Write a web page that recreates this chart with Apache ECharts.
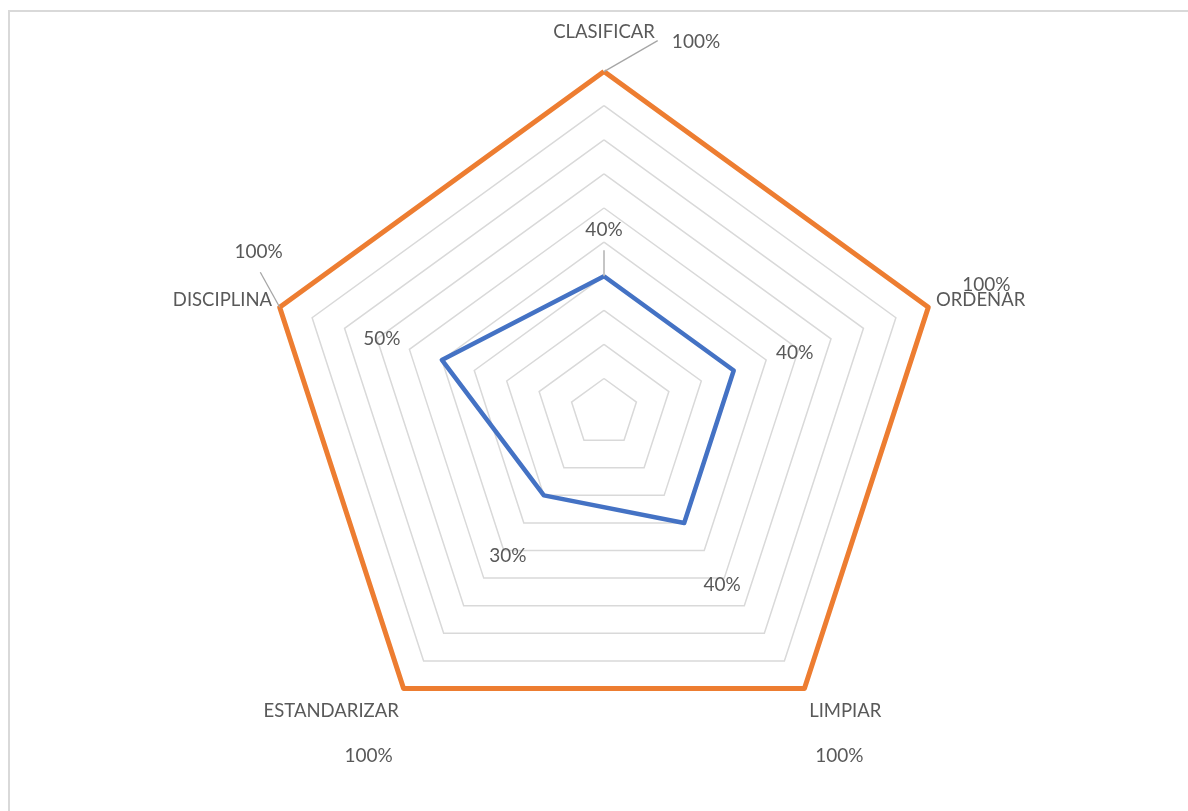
<!DOCTYPE html>
<html><head><meta charset="utf-8">
<script src="https://cdn.jsdelivr.net/npm/echarts@6/dist/echarts.min.js"></script>
<style>
html,body{margin:0;padding:0;background:#fff;overflow:hidden;}
#frame{position:absolute;left:8px;top:10px;width:1200px;height:820px;border-left:2px solid #d9d9d9;border-top:2px solid #d9d9d9;box-sizing:border-box;}
#chart{position:absolute;left:0;top:0;width:1188px;height:811px;}
</style></head><body>
<div id="frame"></div>
<div id="chart"></div>
<script>
// ---- data ----
const categories = ['CLASIFICAR', 'ORDENAR', 'LIMPIAR', 'ESTANDARIZAR', 'DISCIPLINA'];
const actual = [40, 40, 40, 30, 50];
const goal = [100, 100, 100, 100, 100];
const axisMax = 100;
const axisSplits = 10;

// ---- styling / layout ----
const TEXT = '#595959';
const FONT = 'Lato';
const BLUE = '#4472C4';
const ORANGE = '#ED7D31';
// radar places indicators counter-clockwise; reorder so they run clockwise like the original
const order = [0, 4, 3, 2, 1];
const nameStyleKey = ['top', 'side', 'bot', 'bot', 'side'];
const actualLabelOffsets = [[0, -46], [61, -18], [38, 62], [-36, 61], [-60, -21]];
const goalLabelOffsets = [[92, -30], [58, -22], [35, 67], [-35, 67], [-21, -55]];
const leaders = [
  { values: goal, idx: 0, len: 62, rotate: 30 },
  { values: goal, idx: 4, len: 40, rotate: 119 },
  { values: actual, idx: 0, len: 26, rotate: 90 }
];

function display(values) { return order.map(i => values[i]); }
function onlyAt(values, i) { return order.map(j => (j === i ? values[j] : '-')); }
function isNum(v) { return typeof v === 'number' && !isNaN(v); }

function helperSeries(values, i, label) {
  return {
    type: 'radar', silent: true, z: 5,
    symbol: 'circle', symbolSize: 1,
    itemStyle: { color: 'transparent' },
    lineStyle: { width: 0, opacity: 0 },
    emphasis: { disabled: true },
    data: [{ value: onlyAt(values, i) }],
    label: label
  };
}

const series = [
  {
    type: 'radar', name: 'Actual', z: 3, silent: true, symbol: 'none',
    lineStyle: { color: BLUE, width: 4.5 },
    data: [{ value: display(actual) }]
  },
  {
    type: 'radar', name: 'Meta', z: 3, silent: true, symbol: 'none',
    lineStyle: { color: ORANGE, width: 5 },
    data: [{ value: display(goal) }]
  }
];

categories.forEach((c, i) => {
  series.push(helperSeries(actual, i, {
    show: true, position: 'inside', offset: actualLabelOffsets[i],
    color: TEXT, fontSize: 19, fontFamily: FONT,
    formatter: p => (isNum(p.value) ? p.value + '%' : '')
  }));
  series.push(helperSeries(goal, i, {
    show: true, position: 'inside', offset: goalLabelOffsets[i],
    color: TEXT, fontSize: 19, fontFamily: FONT,
    formatter: p => (isNum(p.value) ? p.value + '%' : '')
  }));
});

leaders.forEach(l => {
  series.push(helperSeries(l.values, l.idx, {
    show: true, position: 'inside', align: 'left', verticalAlign: 'middle',
    rotate: l.rotate,
    formatter: p => (isNum(p.value) ? '{l|}' : ''),
    rich: { l: { width: l.len, height: 1.3, backgroundColor: '#a6a6a6' } }
  }));
});

const nameBase = { fontSize: 18.5, fontFamily: FONT, color: TEXT };

const chart = echarts.init(document.getElementById('chart'), null, { renderer: 'canvas' });
chart.setOption({
  animation: false,
  backgroundColor: 'transparent',
  radar: {
    center: [604, 412.6],
    radius: 341,
    startAngle: 90,
    shape: 'polygon',
    splitNumber: axisSplits,
    nameGap: 8,
    indicator: display(categories).map(n => ({ name: n, min: 0, max: axisMax })),
    axisName: {
      color: TEXT, fontSize: 18.5, fontFamily: FONT,
      formatter: (name) => '{' + nameStyleKey[categories.indexOf(name)] + '|' + name + '}',
      rich: {
        top: Object.assign({ padding: [0, 0, 22, 0] }, nameBase),
        side: Object.assign({ padding: [0, 0, 10, 0] }, nameBase),
        bot: Object.assign({ padding: [32, 0, 0, 0] }, nameBase)
      }
    },
    splitLine: { lineStyle: { color: '#d9d9d9', width: 1.5 } },
    splitArea: { show: false },
    axisLine: { show: false },
    axisTick: { show: false },
    axisLabel: { show: false }
  },
  series: series
});
</script>
</body></html>
